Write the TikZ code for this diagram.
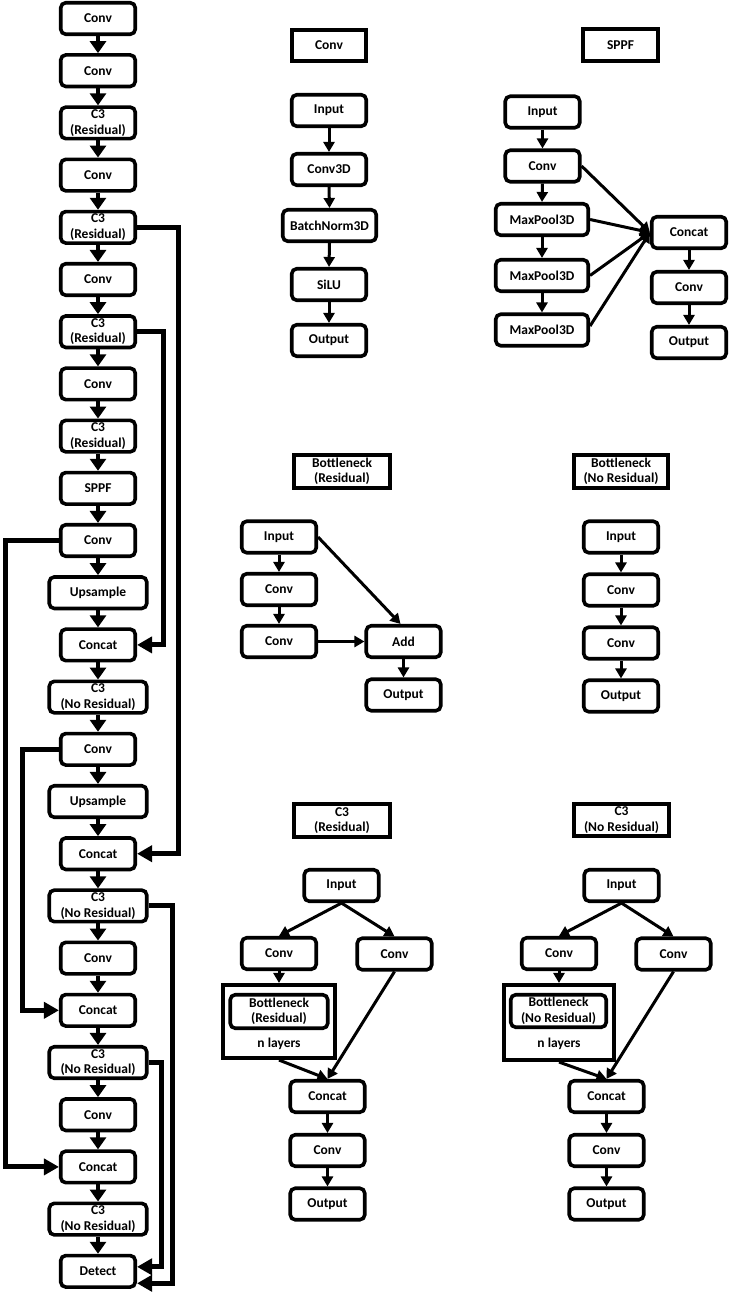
\documentclass[tikz,border=0pt]{standalone}
\usepackage{fontspec}
\setmainfont{Carlito}
\usetikzlibrary{arrows.meta}
\newcommand\blkfont{\fontsize{13.5}{15.5}\selectfont\bfseries}
\begin{document}
\begin{tikzpicture}[x=1pt,y=-1pt,
 blk/.style={draw, rounded corners=5pt, line width=3.6pt, minimum width=74.5pt, minimum height=31.5pt, inner sep=0pt, align=center, font=\blkfont},
 wblk/.style={blk, minimum width=97.5pt},
 ttl/.style={draw, line width=3.6pt, minimum width=74.5pt, minimum height=31.5pt, inner sep=0pt, align=center, font=\blkfont},
 outerbox/.style={draw, line width=3.6pt, inner sep=0pt},
 marr/.style={line width=4.5pt, -{Triangle[width=16pt,length=12pt]}},
 skip/.style={line width=5pt, -{Triangle[width=16pt,length=15pt]}},
 sarr/.style={line width=3pt, -{Triangle[width=11pt,length=10pt]}},
]
\useasboundingbox (0,0) rectangle (729,1298);
\fill[white] (0,0) rectangle (729,1298);

% ---------------- main column ----------------
\node[blk]  (L1)  at (98,18.5)   {Conv};
\node[blk]  (L2)  at (98,70.7)   {Conv};
\node[blk]  (L3)  at (98,122.9)  {C3\\(Residual)};
\node[blk]  (L4)  at (98,175.1)  {Conv};
\node[blk]  (L5)  at (98,227.3)  {C3\\(Residual)};
\node[blk]  (L6)  at (98,279.5)  {Conv};
\node[blk]  (L7)  at (98,331.7)  {C3\\(Residual)};
\node[blk]  (L8)  at (98,383.9)  {Conv};
\node[blk]  (L9)  at (98,436.1)  {C3\\(Residual)};
\node[blk]  (L10) at (98,488.3)  {SPPF};
\node[blk]  (L11) at (98,540.5)  {Conv};
\node[wblk] (L12) at (98,592.7)  {Upsample};
\node[blk]  (L13) at (98,644.9)  {Concat};
\node[wblk] (L14) at (98,697.1)  {C3\\(No Residual)};
\node[blk]  (L15) at (98,749.3)  {Conv};
\node[wblk] (L16) at (98,801.5)  {Upsample};
\node[blk]  (L17) at (98,853.7)  {Concat};
\node[wblk] (L18) at (98,905.9)  {C3\\(No Residual)};
\node[blk]  (L19) at (98,958.1)  {Conv};
\node[blk]  (L20) at (98,1010.3) {Concat};
\node[wblk] (L21) at (98,1062.5) {C3\\(No Residual)};
\node[blk]  (L22) at (98,1114.7) {Conv};
\node[blk]  (L23) at (98,1166.9) {Concat};
\node[wblk] (L24) at (98,1219.1) {C3\\(No Residual)};
\node[blk]  (L25) at (98,1271.3) {Detect};

\foreach \i [count=\j from 2] in {1,...,24}
  \draw[marr] (L\i.south) -- (L\j.north);

\coordinate (xa) at (178,0);
\coordinate (xb) at (163,0);
\coordinate (xc) at (5,0);
\coordinate (xd) at (22,0);
\coordinate (xe) at (172,0);
\coordinate (xf) at (161,0);
\draw[skip] (L5.east) -- (L5.east -| xa) |- (L17.east);
\draw[skip] (L7.east) -- (L7.east -| xb) |- (L13.east);
\draw[skip] (L11.west) -- (L11.west -| xc) |- (L23.west);
\draw[skip] (L15.west) -- (L15.west -| xd) |- (L20.west);
\draw[skip] (L18.east) -- (L18.east -| xe) |- ([yshift=-12pt]L25.east);
\draw[skip] (L21.east) -- (L21.east -| xf) |- ([yshift=4.5pt]L25.east);

% ---------------- Conv panel ----------------
\node[ttl] (ct) at (329,45.5) {Conv};
\node[blk] (c1) at (329,110.5) {Input};
\node[blk] (c2) at (329,169.5) {Conv3D};
\node[blk, minimum width=93.5pt] (c3) at (329.5,225.5) {BatchNorm3D};
\node[blk] (c4) at (329,284.5) {SiLU};
\node[blk] (c5) at (329,340.5) {Output};
\draw[sarr] (c1.south) -- (c2.north);
\draw[sarr] (c2.south) -- (c3.north);
\draw[sarr] (c3.south) -- (c4.north);
\draw[sarr] (c4.south) -- (c5.north);

% ---------------- SPPF panel ----------------
\node[ttl] (st) at (620.5,45) {SPPF};
\node[blk] (s1) at (542.5,112) {Input};
\node[blk] (s2) at (542.5,166) {Conv};
\node[blk, minimum width=92.5pt] (s3) at (542,219.5) {MaxPool3D};
\node[blk, minimum width=92.5pt] (s4) at (542,275.5) {MaxPool3D};
\node[blk, minimum width=92.5pt] (s5) at (542,330) {MaxPool3D};
\node[blk] (s6) at (689,232.5) {Concat};
\node[blk] (s7) at (689,287.5) {Conv};
\node[blk] (s8) at (689,342.5) {Output};
\draw[sarr] (s1.south) -- (s2.north);
\draw[sarr] (s2.south) -- (s3.north);
\draw[sarr] (s3.south) -- (s4.north);
\draw[sarr] (s4.south) -- (s5.north);
\draw[sarr] (s2.east) -- (s6.west);
\draw[sarr] (s3.east) -- (s6.west);
\draw[sarr] (s4.east) -- (s6.west);
\draw[sarr] ([yshift=4pt]s5.east) -- (s6.west);
\draw[sarr] (s6.south) -- (s7.north);
\draw[sarr] (s7.south) -- (s8.north);

% ---------------- Bottleneck (Residual) ----------------
\node[ttl, minimum width=96.5pt, minimum height=33.5pt] (bt) at (342,471.5) {Bottleneck\\(Residual)};
\node[blk] (b1) at (279,537) {Input};
\node[blk] (b2) at (279,589.5) {Conv};
\node[blk] (b3) at (279,641.5) {Conv};
\node[blk] (b4) at (403.5,641.5) {Add};
\node[blk] (b5) at (403.5,695) {Output};
\draw[sarr] (b1.south) -- (b2.north);
\draw[sarr] (b2.south) -- (b3.north);
\draw[sarr] (b1.east) -- ([xshift=-3pt]b4.north);
\draw[sarr] (b3.east) -- (b4.west);
\draw[sarr] (b4.south) -- (b5.north);

% ---------------- Bottleneck (No Residual) ----------------
\node[ttl, minimum width=94.5pt, minimum height=33.5pt] (nt) at (621,471.5) {Bottleneck\\(No Residual)};
\node[blk] (n1) at (621,537) {Input};
\node[blk] (n2) at (621,590) {Conv};
\node[blk] (n3) at (621,643) {Conv};
\node[blk] (n4) at (621,696) {Output};
\draw[sarr] (n1.south) -- (n2.north);
\draw[sarr] (n2.south) -- (n3.north);
\draw[sarr] (n3.south) -- (n4.north);

% ---------------- C3 (Residual) ----------------
\node[ttl, minimum width=96.5pt, minimum height=33.5pt] (rt) at (342,820.5) {C3\\(Residual)};
\node[blk] (r1) at (341.5,885.5) {Input};
\node[blk] (r2) at (279,953.5) {Conv};
\node[blk] (r3) at (394.5,954) {Conv};
\node[outerbox, minimum width=111.5pt, minimum height=73.5pt] (r4) at (279,1021.5) {};
\node[blk, minimum width=97.5pt, minimum height=33.5pt] (r5) at (279,1011.5) {Bottleneck\\(Residual)};
\node[font=\blkfont, inner sep=0pt] (r6) at (279,1044) {n layers};
\node[blk] (r7) at (327.5,1096.5) {Concat};
\node[blk] (r8) at (327.5,1150.5) {Conv};
\node[blk] (r9) at (327.5,1204) {Output};
\draw[sarr] (r1.south) -- (r2.north);
\draw[sarr] (r1.south) -- (r3.north);
\draw[sarr] (r2.south) -- (r4.north);
\draw[sarr] (r4.south) -- (r7.north);
\draw[sarr] (r3.south) -- (r7.north);
\draw[sarr] (r7.south) -- (r8.north);
\draw[sarr] (r8.south) -- (r9.north);

% ---------------- C3 (No Residual) ----------------
\node[ttl, minimum width=95.5pt, minimum height=32.5pt] (qt) at (621.5,820) {C3\\(No Residual)};
\node[blk] (q1) at (621.5,885.5) {Input};
\node[blk] (q2) at (559,953.5) {Conv};
\node[blk] (q3) at (673.5,954) {Conv};
\node[outerbox, minimum width=110.5pt, minimum height=75.5pt] (q4) at (559,1022.5) {};
\node[blk, minimum width=95.5pt, minimum height=32.5pt] (q5) at (558.5,1011) {Bottleneck\\(No Residual)};
\node[font=\blkfont, inner sep=0pt] (q6) at (559,1044) {n layers};
\node[blk] (q7) at (606.5,1096.5) {Concat};
\node[blk] (q8) at (606.5,1150.5) {Conv};
\node[blk] (q9) at (606.5,1204) {Output};
\draw[sarr] (q1.south) -- (q2.north);
\draw[sarr] (q1.south) -- (q3.north);
\draw[sarr] (q2.south) -- (q4.north);
\draw[sarr] (q4.south) -- (q7.north);
\draw[sarr] (q3.south) -- (q7.north);
\draw[sarr] (q7.south) -- (q8.north);
\draw[sarr] (q8.south) -- (q9.north);
\end{tikzpicture}
\end{document}
